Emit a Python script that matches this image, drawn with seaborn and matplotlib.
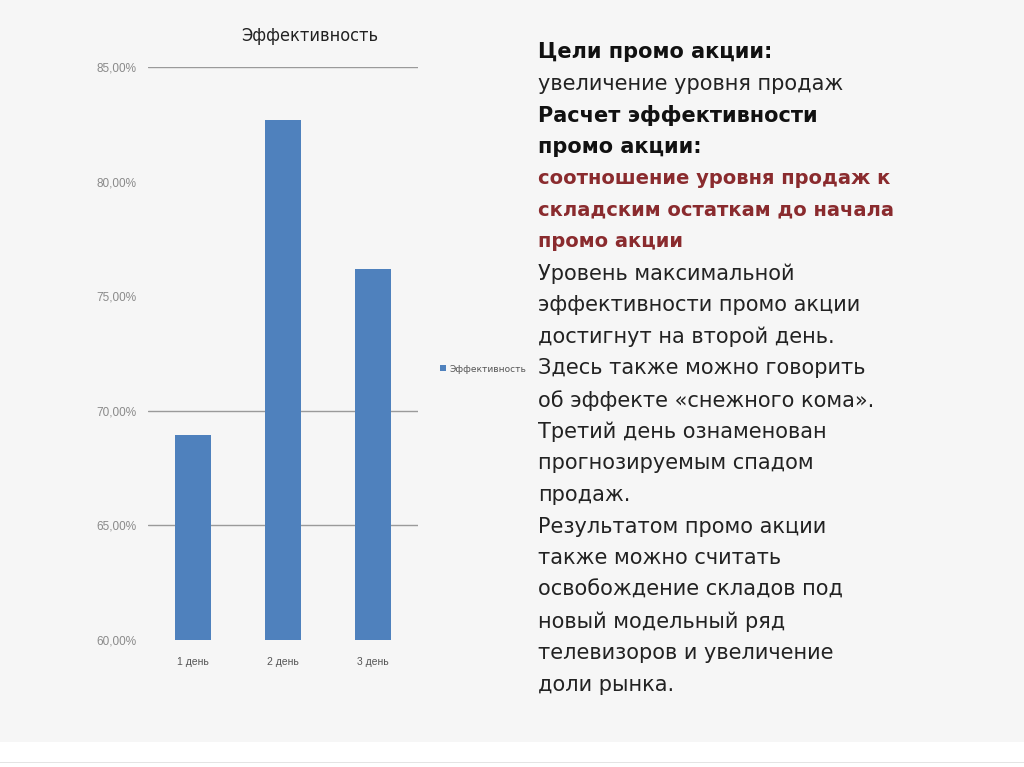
import seaborn as sns
import matplotlib.pyplot as plt
from matplotlib.patches import Rectangle

days = ["1 день", "2 день", "3 день"]
efficiency = [68.95, 82.7, 76.2]
y_ticks = [60, 65, 70, 75, 80, 85]
y_tick_labels = ["60,00%", "65,00%", "70,00%", "75,00%", "80,00%", "85,00%"]
grid_levels = [65, 70, 85]
series_name = "Эффективность"

# (text, weight, colour, size)
text_lines = [
    ("Цели промо акции:", "bold", "#111111", 15),
    ("увеличение уровня продаж", "normal", "#222222", 15),
    ("Расчет эффективности", "bold", "#111111", 15),
    ("промо акции:", "bold", "#111111", 15),
    ("соотношение уровня продаж к", "bold", "#8a2b2e", 14),
    ("складским остаткам до начала", "bold", "#8a2b2e", 14),
    ("промо акции", "bold", "#8a2b2e", 14),
    ("Уровень максимальной", "normal", "#222222", 15),
    ("эффективности промо акции", "normal", "#222222", 15),
    ("достигнут на второй день.", "normal", "#222222", 15),
    ("Здесь также можно говорить", "normal", "#222222", 15),
    ("об эффекте «снежного кома».", "normal", "#222222", 15),
    ("Третий день ознаменован", "normal", "#222222", 15),
    ("прогнозируемым спадом", "normal", "#222222", 15),
    ("продаж.", "normal", "#222222", 15),
    ("Результатом промо акции", "normal", "#222222", 15),
    ("также можно считать", "normal", "#222222", 15),
    ("освобождение складов под", "normal", "#222222", 15),
    ("новый модельный ряд", "normal", "#222222", 15),
    ("телевизоров и увеличение", "normal", "#222222", 15),
    ("доли рынка.", "normal", "#222222", 15),
]

sns.set_style("white")
plt.rcParams["font.family"] = ["DejaVu Sans"]

W, H = 1024, 767
fig = plt.figure(figsize=(W / 100, H / 100), dpi=100)
fig.patch.set_facecolor("#f6f6f6")
fig.add_artist(Rectangle((0, 0), 1, 25 / H, transform=fig.transFigure,
                         facecolor="white", edgecolor="none"))
fig.add_artist(Rectangle((0, 4 / H), 1, 1 / H, transform=fig.transFigure,
                         facecolor="#e4e4e4", edgecolor="none"))

ax = fig.add_axes([148 / W, 1 - 640 / H, 270 / W, 573 / H])
ax.set_facecolor("#f6f6f6")
for lv in grid_levels:
    ax.axhline(lv, color="#9a9a9a", lw=1, zorder=0)
sns.barplot(x=days, y=efficiency, color="#4f81bd", width=0.41,
            saturation=1, label=series_name, ax=ax, zorder=2, linewidth=0)
ax.set_ylim(60, 85)
ax.set_yticks(y_ticks)
ax.set_yticklabels(y_tick_labels, fontsize=8.5, color="#8a8a8a",
                   family="Liberation Sans")
ax.tick_params(axis="x", labelsize=7.5, colors="#555555", length=0, pad=12)
ax.tick_params(axis="y", length=0, pad=8)
for lab in ax.get_xticklabels():
    lab.set_family("Liberation Sans")
for s in ax.spines.values():
    s.set_visible(False)
ax.set_xlabel("")
ax.set_ylabel("")

fig.text(310 / W, 1 - 36 / H, series_name, ha="center", va="center",
         fontsize=13, color="#222222", family="DejaVu Sans",
         fontstretch="condensed")

leg = ax.legend(loc="center left", bbox_to_anchor=(432 / W, 1 - 369 / H),
                bbox_transform=fig.transFigure, frameon=False,
                fontsize=6.5, handlelength=0.6, handleheight=0.6,
                handletextpad=0.4, labelcolor="#555555")

y0 = 52
step = 31.65
for i, (line, weight, col, size) in enumerate(text_lines):
    fig.text(538 / W, 1 - (y0 + i * step) / H, line, ha="left", va="center",
             fontsize=size, fontweight=weight, color=col, family="DejaVu Sans")

fig.savefig("out.png", dpi=100, facecolor=fig.get_facecolor())
